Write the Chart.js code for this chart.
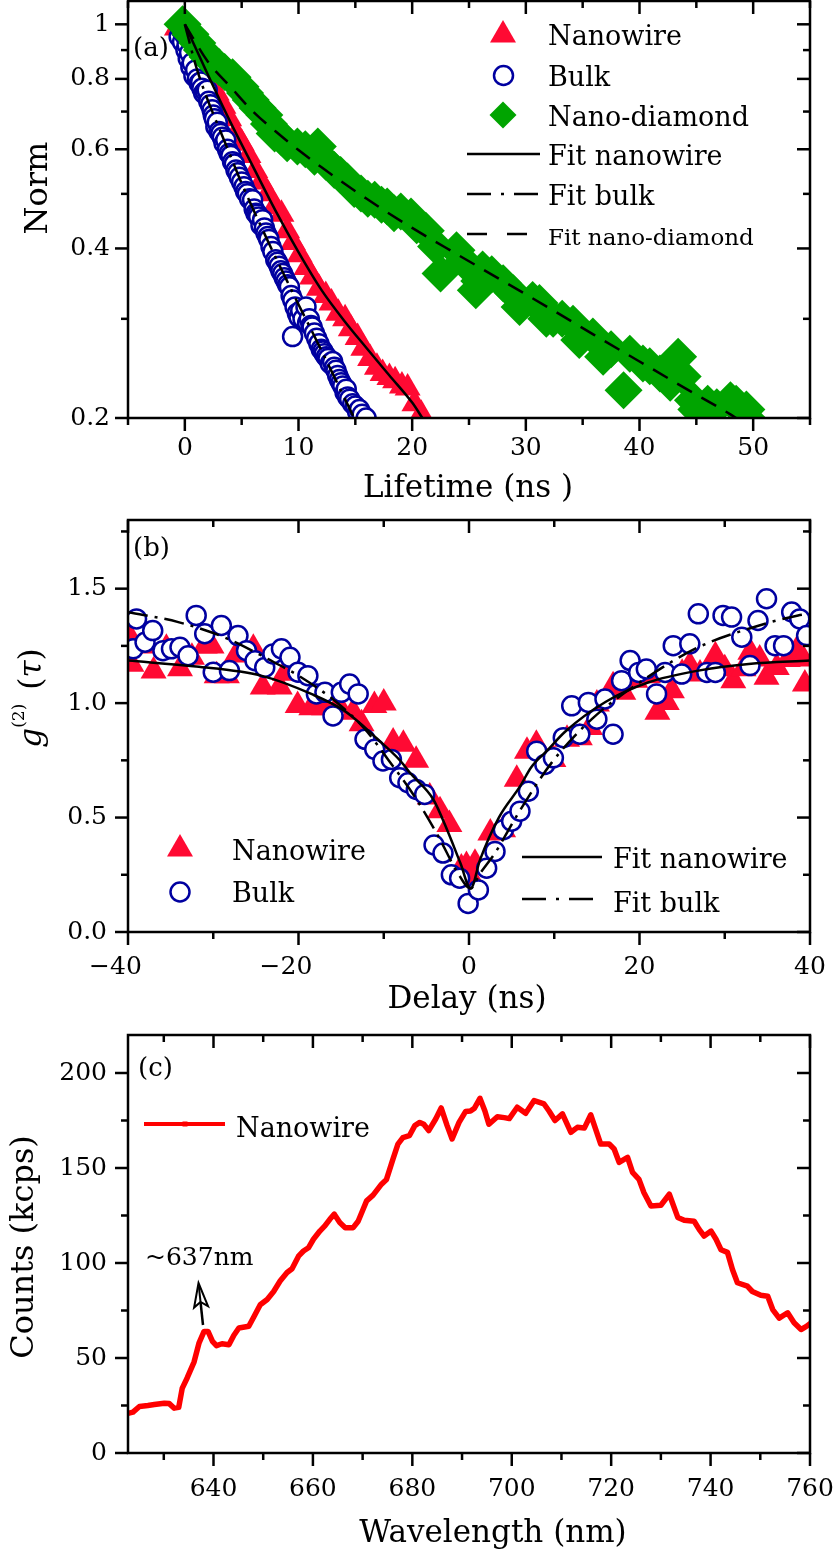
<!DOCTYPE html>
<html><head><meta charset="utf-8">
<script src="https://cdn.jsdelivr.net/npm/chart.js@4.4.1/dist/chart.umd.min.js"></script>
<style>
html,body{margin:0;padding:0;background:#fff;}
#wrap{position:relative;width:838px;height:1550px;overflow:hidden;background:#fff;}
canvas{position:absolute;left:0;top:0;}
</style></head><body>
<div id="wrap">
<canvas id="ca" width="838" height="1550" style="width:838px;height:1550px"></canvas>
<canvas id="cb" width="838" height="1550" style="width:838px;height:1550px"></canvas>
<canvas id="cc" width="838" height="1550" style="width:838px;height:1550px"></canvas>
</div>
<script>
// ================= DATA =================
// ---- Panel (a): lifetime decay, [time ns, normalised] ----
const lifeNanowire = [[-0.7,0.985],[0,1.0],[0.6,0.94],[1.2,0.885],[1.7,0.84],[2.3,0.795],[2.8,0.755],[3.4,0.715],[3.9,0.68],[4.5,0.64],[5.0,0.615],[5.6,0.585],[6.2,0.55],[6.7,0.525],[7.3,0.5],[7.9,0.475],[8.5,0.46],[9.0,0.43],[9.5,0.41],[10.1,0.39],[10.7,0.37],[11.2,0.356],[11.8,0.34],[12.4,0.33],[12.9,0.32],[13.5,0.307],[14.1,0.3],[14.6,0.288],[15.2,0.278],[15.7,0.266],[16.3,0.255],[16.9,0.246],[17.4,0.24],[18.0,0.236],[18.5,0.233],[19.1,0.228],[19.6,0.226],[20.2,0.212],[20.8,0.203]];
const lifeBulk = [[-0.5,0.95],[-0.35,0.98],[-0.2,0.93],[-0.05,0.96],[0.1,0.9],[0.2,0.92],[0.3,0.87],[0.42,0.89],[0.53,0.84],[0.65,0.855],[0.8,0.81],[0.95,0.83],[1.1,0.8],[1.26,0.786],[1.4,0.79],[1.5,0.77],[1.65,0.755],[1.8,0.76],[1.97,0.764],[2.1,0.73],[2.25,0.72],[2.4,0.705],[2.5,0.69],[2.6,0.68],[2.73,0.658],[2.85,0.67],[3.0,0.645],[3.15,0.64],[3.3,0.63],[3.45,0.615],[3.6,0.623],[3.75,0.6],[3.9,0.59],[4.05,0.585],[4.2,0.57],[4.35,0.565],[4.5,0.551],[4.65,0.545],[4.8,0.535],[5.0,0.525],[5.2,0.515],[5.35,0.505],[5.5,0.5],[5.7,0.49],[5.96,0.488],[6.1,0.47],[6.25,0.462],[6.4,0.46],[6.5,0.455],[6.7,0.44],[6.84,0.45],[7.0,0.435],[7.14,0.426],[7.3,0.42],[7.4,0.415],[7.58,0.403],[7.75,0.395],[8.0,0.382],[8.15,0.378],[8.3,0.372],[8.45,0.365],[8.6,0.361],[8.75,0.355],[8.9,0.35],[9.05,0.345],[9.2,0.342],[9.35,0.33],[9.5,0.324],[9.48,0.279],[9.7,0.315],[9.9,0.307],[10.05,0.302],[10.2,0.31],[10.4,0.3],[10.66,0.315],[10.8,0.295],[10.95,0.3],[11.1,0.292],[11.2,0.29],[11.4,0.283],[11.6,0.277],[11.8,0.271],[12.0,0.265],[12.15,0.263],[12.27,0.26],[12.45,0.257],[12.6,0.255],[12.8,0.25],[13.0,0.252],[13.15,0.246],[13.3,0.243],[13.45,0.238],[13.6,0.234],[13.75,0.231],[13.9,0.228],[14.1,0.222],[14.2,0.225],[14.33,0.218],[14.5,0.216],[14.77,0.212],[15.0,0.21],[15.2,0.205],[15.36,0.207],[15.6,0.203],[15.95,0.2]];
const lifeDiamond = [[-0.2,1.0],[0.5,0.96],[1.1,0.926],[1.5,0.9],[2.0,0.875],[2.6,0.85],[3.0,0.84],[3.5,0.823],[4.2,0.805],[4.9,0.775],[5.3,0.755],[5.8,0.734],[6.4,0.71],[7.0,0.69],[7.4,0.665],[7.9,0.64],[8.5,0.63],[9.0,0.615],[9.9,0.607],[10.6,0.6],[11.4,0.582],[11.7,0.607],[12.4,0.57],[13.15,0.551],[13.7,0.54],[14.3,0.526],[14.9,0.51],[15.5,0.501],[16.1,0.49],[16.7,0.488],[17.3,0.478],[17.8,0.475],[18.4,0.462],[19.0,0.465],[19.9,0.456],[20.4,0.44],[21.2,0.43],[22.1,0.403],[22.5,0.361],[23.9,0.397],[24.5,0.38],[25.6,0.337],[25.9,0.35],[26.2,0.367],[27.0,0.36],[28.0,0.347],[28.9,0.333],[29.45,0.315],[30.6,0.324],[31.2,0.32],[31.8,0.3],[32.4,0.3],[33.2,0.3],[34.15,0.294],[34.7,0.275],[35.9,0.279],[36.8,0.257],[37.5,0.265],[38.6,0.224],[39.15,0.26],[40.3,0.25],[40.9,0.247],[41.8,0.24],[42.7,0.231],[43.4,0.257],[43.8,0.237],[44.7,0.215],[45.0,0.207],[46.0,0.212],[46.8,0.209],[48.0,0.215],[48.5,0.212],[49.4,0.207],[49.7,0.198]];
const fitNanowireA = [[0,1.0],[2,0.816],[4,0.671],[6,0.559],[8,0.466],[10,0.394],[12,0.338],[14,0.298],[16,0.266],[18,0.238],[20,0.213],[20.9,0.2]];
const fitBulkA = [[0,1.0],[1,0.84],[2,0.735],[3,0.655],[4,0.585],[5,0.522],[6,0.47],[7,0.425],[8,0.385],[9,0.35],[10,0.318],[11,0.29],[12,0.264],[13,0.24],[14,0.218],[14.9,0.2]];
const fitDiamondA = [[0,1.0],[2,0.86],[4,0.775],[6,0.70],[8,0.645],[10,0.598],[12,0.558],[14,0.522],[16,0.49],[18,0.461],[20,0.435],[24,0.39],[28,0.35],[32,0.314],[36,0.281],[40,0.252],[44,0.226],[48,0.203],[48.5,0.2]];
const lifeXTicks = [0,10,20,30,40,50];
const lifeXMinor = [-5,5,15,25,35,45,55];
const lifeYTicks = [0.2,0.4,0.6,0.8,1];
const lifeYLabels = ['0.2','0.4','0.6','0.8','1'];
const lifeYMinor = [0.3,0.5,0.7,0.9];

// ---- Panel (b): g2(tau), [delay ns, g2] ----
const g2Nanowire = [[-39.8,1.29],[-39.6,1.17],[-38.3,1.25],[-37.0,1.14],[-35.5,1.24],[-33.9,1.15],[-32.5,1.2],[-31.0,1.25],[-30.2,1.25],[-29.6,1.12],[-28.4,1.12],[-27.3,1.21],[-25.3,1.24],[-24.2,1.07],[-22.2,1.07],[-21.6,1.13],[-20.1,0.99],[-18.5,0.98],[-17.0,0.98],[-15.3,0.99],[-13.6,0.96],[-12.6,0.91],[-11.1,0.99],[-10.0,1.0],[-8.9,0.83],[-7.7,0.82],[-6.2,0.75],[-4.6,0.59],[-3.4,0.53],[-2.3,0.47],[-0.9,0.28],[-0.3,0.29],[0.3,0.235],[0.7,0.3],[2.5,0.433],[4.0,0.447],[5.6,0.667],[6.8,0.79],[7.9,0.82],[9.9,0.754],[11.5,0.842],[13.0,0.849],[14.2,0.893],[15.0,0.996],[16.9,1.076],[18.1,1.047],[19.5,1.1],[21.0,1.12],[22.1,0.96],[23.2,1.003],[23.8,1.054],[25.0,1.13],[25.9,1.164],[27.1,1.127],[28.9,1.207],[30.0,1.15],[31.0,1.098],[32.2,1.15],[33.0,1.222],[34.1,1.193],[34.9,1.113],[36.1,1.156],[37.4,1.19],[38.4,1.229],[39.2,1.193],[39.4,1.083]];
const g2Bulk = [[-39.4,1.237],[-39.0,1.368],[-38.0,1.266],[-37.1,1.317],[-35.9,1.229],[-34.9,1.237],[-33.9,1.244],[-32.96,1.207],[-32.0,1.383],[-31.0,1.303],[-30.0,1.135],[-29.05,1.339],[-28.1,1.142],[-27.1,1.295],[-26.1,1.229],[-25.1,1.185],[-23.96,1.156],[-23.0,1.215],[-22.0,1.237],[-21.0,1.2],[-20.06,1.135],[-18.9,1.12],[-17.9,1.04],[-16.9,1.047],[-15.95,0.944],[-14.98,1.047],[-14.0,1.083],[-13.0,1.04],[-12.2,0.842],[-11.06,0.798],[-10.09,0.747],[-9.1,0.754],[-8.13,0.674],[-7.16,0.652],[-6.18,0.623],[-5.2,0.601],[-4.1,0.38],[-3.05,0.345],[-2.07,0.25],[-1.1,0.235],[-0.1,0.125],[1.1,0.184],[2.07,0.279],[3.05,0.352],[4.03,0.447],[5.0,0.484],[5.98,0.528],[6.96,0.615],[7.94,0.79],[8.9,0.732],[9.9,0.761],[11.06,0.849],[12.05,0.988],[13.0,0.864],[14.0,1.003],[15.0,0.93],[15.95,1.018],[16.9,0.864],[17.9,1.098],[18.9,1.186],[19.9,1.134],[20.8,1.149],[22.0,1.04],[23.0,1.134],[23.96,1.251],[24.95,1.127],[25.9,1.259],[26.9,1.39],[27.9,1.134],[28.9,1.134],[29.8,1.383],[30.8,1.376],[32.0,1.288],[32.96,1.164],[33.9,1.361],[34.9,1.456],[35.9,1.251],[36.9,1.251],[37.85,1.398],[38.8,1.368],[39.6,1.295]];
const fitNanowireB = [[-40,1.186],[-32,1.16],[-24.4,1.12],[-18.5,1.04],[-14.6,0.966],[-10.7,0.842],[-8.1,0.75],[-6.8,0.69],[-4.2,0.58],[-2.5,0.44],[-1,0.3],[0.2,0.19],[1.3,0.316],[3.5,0.5],[6,0.637],[7.3,0.72],[9.1,0.79],[11.3,0.876],[16,1.005],[21,1.09],[26.9,1.142],[32.8,1.171],[40,1.186]];
const fitBulkB = [[-40,1.397],[-34.1,1.354],[-28.3,1.281],[-23.6,1.193],[-19.7,1.113],[-15.75,1.01],[-12.2,0.886],[-9.5,0.754],[-6.4,0.593],[-3.6,0.418],[-1.3,0.257],[0.2,0.19],[1.2,0.25],[3.05,0.345],[5.8,0.52],[9.7,0.74],[14.4,0.93],[20.6,1.105],[26.9,1.244],[32.8,1.325],[38.6,1.383],[40,1.39]];
const delayXTicks = [-40,-20,0,20,40];
const delayXMinor = [-30,-10,10,30];
const g2YTicks = [0,0.5,1.0,1.5];
const g2YLabels = ['0.0','0.5','1.0','1.5'];
const g2YMinor = [0.25,0.75,1.25,1.75];

// ---- Panel (c): spectrum ----
const wavelength = [623,623.8,625.1,626.8,628.1,630.1,631.1,632.1,633,633.7,634.7,636.1,637.1,638.1,638.9,639.8,640.6,641.7,643.1,644.1,645.1,647.1,648.1,649.4,650.8,652.1,653.4,654.8,655.8,657.1,658.1,659.1,660.1,661.4,662.4,663.4,664.3,665.4,666.5,668.1,669.1,670.1,670.8,672.1,673.8,674.8,676.1,677.1,678.1,679.4,680.5,681.5,682.3,683.3,684.7,685.8,687,688,689.4,690.7,691.7,692.5,693.6,694.6,695.4,697.1,698.5,699.5,701.1,702.8,704.5,706.5,707.5,708.7,710.2,711.9,713.2,714.6,715.9,717.9,719.6,720.6,721.6,723.3,724.3,725.6,726.6,728,730,731.7,733.4,734.7,736.7,737.7,738.7,740.1,741.1,742.1,743.4,744.4,745.4,747.4,748.4,750.1,751.5,752.5,753.8,755.5,756.8,758.2,759.2,760.2];
const counts = [21,21.5,24.5,25,25.5,26.2,26,23.6,24,34,39.5,48,58,64,64,58.8,56.5,57.5,57,62,65.8,66.7,71.6,78,80.8,85,90.5,95,97,103.6,106.3,108,112.5,116.8,119.5,123,125.7,121.3,118.6,118.6,122,128.3,132.7,135.7,141.5,144,154.7,162.6,166,167,172.3,174,173,169.7,175.8,181.6,172.3,165.3,174,179.7,180,181.5,186.7,180,173,177,176.5,176,182,178.8,185.5,183.7,180,175,178.5,168.8,171.4,171,178,162.6,162.6,160,153,155.6,147.7,144,137,130,130.4,136.2,124,122.5,122,117.7,114.2,116.8,112.5,107,105.6,96.6,89.6,87.8,85,83,82.5,75.5,71,73.8,68.5,65,66.5,68.5];
const wlXTicks = [640,660,680,700,720,740,760];
const wlXMinor = [630,650,670,690,710,730,750];
const countsYTicks = [0,50,100,150,200];
const countsYMinor = [25,75,125,175];

// ================= STYLE / HELPERS =================
const RED = '#ff0a33', BLUE = '#0000a0', GREEN = '#00a400';
const SERIF = '"DejaVu Serif"';
Chart.defaults.color = '#000';
Chart.defaults.font.family = 'DejaVu Serif';

const pts = arr => arr.map(p => ({x: p[0], y: p[1]}));
const zip = (xs, ys) => xs.map((x, i) => ({x: x, y: ys[i]}));
const resetPad = s => { s.paddingTop = 0; s.paddingBottom = 0; s.paddingLeft = 0; s.paddingRight = 0; };
const fixW = w => s => { s.width = w; resetPad(s); };
const fixH = h => s => { s.height = h; resetPad(s); };
const setTicks = arr => s => { s.ticks = arr.map(v => ({value: v})); };

function fitDs(label, data, dash) {
  return {label, data: pts(data), showLine: true, borderColor: '#000', borderWidth: 2.5,
    borderDash: dash, pointRadius: 0, cubicInterpolationMode: 'monotone', clip: 0, fill: false};
}
function markDs(label, data, style, r, fill, stroke, bw) {
  return {label, data: pts(data), showLine: false, pointStyle: style, pointRadius: r,
    pointBackgroundColor: fill, pointBorderColor: stroke, pointBorderWidth: bw, clip: 0};
}

const FRAME = {
  ca: {xMaj: lifeXTicks, xMin: lifeXMinor, yMaj: lifeYTicks, yMin: lifeYMinor},
  cb: {xMaj: delayXTicks, xMin: delayXMinor, yMaj: g2YTicks, yMin: g2YMinor},
  cc: {xMaj: wlXTicks, xMin: wlXMinor, yMaj: countsYTicks, yMin: countsYMinor}
};
const framePlugin = {
  id: 'frameTicks',
  afterDraw(chart) {
    const f = FRAME[chart.canvas.id]; if (!f) return;
    const ctx = chart.ctx, a = chart.chartArea, xs = chart.scales.x, ys = chart.scales.y;
    ctx.save();
    ctx.strokeStyle = '#000'; ctx.lineWidth = 2.5; ctx.setLineDash([]);
    const seg = (x1, y1, x2, y2) => { ctx.beginPath(); ctx.moveTo(x1, y1); ctx.lineTo(x2, y2); ctx.stroke(); };
    const M = 13, m = 7;
    f.xMaj.map(v => [v, M]).concat(f.xMin.map(v => [v, m])).forEach(([v, L]) => {
      const px = xs.getPixelForValue(v);
      seg(px, a.bottom, px, a.bottom + L); seg(px, a.top, px, a.top + L);
    });
    f.yMaj.map(v => [v, M]).concat(f.yMin.map(v => [v, m])).forEach(([v, L]) => {
      const py = ys.getPixelForValue(v);
      seg(a.left - L, py, a.left, py); seg(a.right - L, py, a.right, py);
    });
    ctx.strokeRect(a.left, a.top, a.right - a.left, a.bottom - a.top);
    ctx.restore();
  }
};

function drawMarker(ctx, it) {
  const {x, y, r} = it;
  ctx.beginPath();
  if (it.style === 'triangle') {
    ctx.moveTo(x, y - r); ctx.lineTo(x + 0.866 * r, y + 0.5 * r); ctx.lineTo(x - 0.866 * r, y + 0.5 * r); ctx.closePath();
  } else if (it.style === 'circle') {
    ctx.arc(x, y, r, 0, Math.PI * 2);
  } else if (it.style === 'rectRot') {
    ctx.moveTo(x - r, y); ctx.lineTo(x, y - r); ctx.lineTo(x + r, y); ctx.lineTo(x, y + r); ctx.closePath();
  } else if (it.style === 'rect') {
    ctx.rect(x - r, y - r, 2 * r, 2 * r);
  }
  ctx.fillStyle = it.fill; ctx.fill();
  if (it.bw) { ctx.lineWidth = it.bw; ctx.strokeStyle = it.stroke; ctx.stroke(); }
}

const F = (s, st) => (st ? st + ' ' : '') + s + 'px ' + SERIF;
const ANNOT = {
  ca: [
    {type: 'text', text: '(a)', x: 133, y: 56, font: F(26)},
    {type: 'marker', style: 'triangle', x: 503, y: 35, r: 15, fill: RED},
    {type: 'marker', style: 'circle', x: 503.5, y: 75.5, r: 9.5, fill: '#fff', stroke: BLUE, bw: 2.5},
    {type: 'marker', style: 'rectRot', x: 503, y: 115, r: 13.5, fill: GREEN},
    {type: 'line', x1: 467, x2: 540, y: 154, dash: []},
    {type: 'line', x1: 467, x2: 540, y: 194, dash: [24, 10, 3, 10]},
    {type: 'line', x1: 467, x2: 527, y: 234, dash: [20, 20]},
    {type: 'text', text: 'Nanowire', x: 548, y: 45, font: F(27)},
    {type: 'text', text: 'Bulk', x: 548, y: 86, font: F(27)},
    {type: 'text', text: 'Nano-diamond', x: 548, y: 126, font: F(27)},
    {type: 'text', text: 'Fit nanowire', x: 548, y: 165, font: F(27)},
    {type: 'text', text: 'Fit bulk', x: 548, y: 205, font: F(27)},
    {type: 'text', text: 'Fit nano-diamond', x: 548, y: 245, font: F(23)},
    {type: 'text', text: 'Norm', x: 47, y: 188, font: F(32), rot: -Math.PI / 2, align: 'center'},
    {type: 'text', text: 'Lifetime (ns )', x: 468, y: 497, font: F(31), align: 'center'}
  ],
  cb: [
    {type: 'text', text: '(b)', x: 133, y: 556, font: F(26)},
    {type: 'marker', style: 'triangle', x: 180, y: 849, r: 15, fill: RED},
    {type: 'marker', style: 'circle', x: 180, y: 892, r: 9.5, fill: '#fff', stroke: BLUE, bw: 2.5},
    {type: 'text', text: 'Nanowire', x: 232, y: 860, font: F(27)},
    {type: 'text', text: 'Bulk', x: 232, y: 902, font: F(27)},
    {type: 'line', x1: 522, x2: 602, y: 857, dash: []},
    {type: 'line', x1: 522, x2: 599, y: 899, dash: [24, 10, 3, 10]},
    {type: 'text', text: 'Fit nanowire', x: 613, y: 868, font: F(27)},
    {type: 'text', text: 'Fit bulk', x: 613, y: 912, font: F(27)},
    {type: 'rich', x: 41, y: 698, parts: [
      {t: 'g', font: F(31, 'italic')},
      {t: '(2)', font: F(17), dy: -17},
      {t: '', gap: 14},
      {t: '(', font: F(31)}, {t: '\u03c4', font: F(31, 'italic')}, {t: ')', font: F(31)}
    ]},
    {type: 'text', text: 'Delay (ns)', x: 467, y: 1008, font: F(31), align: 'center'}
  ],
  cc: [
    {type: 'text', text: '(c)', x: 138, y: 1076, font: F(26)},
    {type: 'line', x1: 144, x2: 225, y: 1124, dash: [], color: '#ff0000', width: 4},
    {type: 'marker', style: 'rect', x: 185, y: 1124, r: 2.5, fill: '#ff0000'},
    {type: 'text', text: 'Nanowire', x: 236, y: 1137, font: F(27)},
    {type: 'text', text: '~637nm', x: 145, y: 1265, font: F(25)},
    {type: 'arrow', x1: 203, y1: 1325, x2: 198.5, y2: 1283, hw: 7, hl: 24},
    {type: 'text', text: 'Counts (kcps)', x: 33, y: 1247, font: F(32), rot: -Math.PI / 2, align: 'center'},
    {type: 'text', text: 'Wavelength (nm)', x: 493, y: 1542, font: F(31), align: 'center'}
  ]
};
const annotPlugin = {
  id: 'annot',
  afterDraw(chart) {
    const items = ANNOT[chart.canvas.id]; if (!items) return;
    const ctx = chart.ctx;
    items.forEach(it => {
      ctx.save();
      ctx.setLineDash([]);
      if (it.type === 'text') {
        ctx.font = it.font; ctx.fillStyle = '#000';
        ctx.textAlign = it.align || 'left'; ctx.textBaseline = 'alphabetic';
        ctx.translate(it.x, it.y); if (it.rot) ctx.rotate(it.rot);
        ctx.fillText(it.text, 0, 0);
      } else if (it.type === 'rich') {
        ctx.translate(it.x, it.y); ctx.rotate(-Math.PI / 2);
        ctx.fillStyle = '#000'; ctx.textBaseline = 'alphabetic'; ctx.textAlign = 'left';
        let total = 0;
        it.parts.forEach(p => { if (p.font) { ctx.font = p.font; p.w = ctx.measureText(p.t).width; } else p.w = p.gap; total += p.w; });
        let cx = -total / 2;
        it.parts.forEach(p => { if (p.font) { ctx.font = p.font; ctx.fillText(p.t, cx, p.dy || 0); } cx += p.w; });
      } else if (it.type === 'line') {
        ctx.strokeStyle = it.color || '#000'; ctx.lineWidth = it.width || 2.5;
        ctx.setLineDash(it.dash || []);
        ctx.beginPath(); ctx.moveTo(it.x1, it.y); ctx.lineTo(it.x2, it.y); ctx.stroke();
      } else if (it.type === 'marker') {
        drawMarker(ctx, it);
      } else if (it.type === 'arrow') {
        const dx = it.x2 - it.x1, dy = it.y2 - it.y1, L = Math.hypot(dx, dy);
        const ux = dx / L, uy = dy / L, nx = -uy, ny = ux;
        const bx = it.x2 - ux * it.hl, by = it.y2 - uy * it.hl;
        ctx.strokeStyle = '#000'; ctx.lineWidth = 2.5;
        ctx.beginPath(); ctx.moveTo(it.x1, it.y1); ctx.lineTo(bx + ux * 6, by + uy * 6); ctx.stroke();
        ctx.lineWidth = 2;
        ctx.beginPath(); ctx.moveTo(it.x2, it.y2);
        ctx.lineTo(bx + nx * it.hw, by + ny * it.hw);
        ctx.lineTo(bx + ux * 5, by + uy * 5);
        ctx.lineTo(bx - nx * it.hw, by - ny * it.hw);
        ctx.closePath(); ctx.fillStyle = '#fff'; ctx.fill(); ctx.stroke();
        ctx.beginPath(); ctx.moveTo(bx + ux * 5, by + uy * 5); ctx.lineTo(it.x2 - ux * 4, it.y2 - uy * 4); ctx.stroke();
      }
      ctx.restore();
    });
  }
};
Chart.register(framePlugin, annotPlugin);

function baseOptions(padding, xCfg, yCfg) {
  return {
    responsive: false, animation: false, devicePixelRatio: 1, events: [],
    layout: {padding: padding, autoPadding: false},
    plugins: {legend: {display: false}, tooltip: {enabled: false}, title: {display: false}},
    elements: {line: {borderCapStyle: 'butt', borderJoinStyle: 'round'}},
    scales: {x: xCfg, y: yCfg}
  };
}
function axisCfg(extra) {
  return Object.assign({grid: {display: false, drawTicks: false}, border: {display: false}}, extra);
}
const tickFont = {family: 'DejaVu Serif', size: 25};

// ---- Chart (a) ----
new Chart(document.getElementById('ca'), {
  type: 'line',
  data: {datasets: [
    fitDs('Fit nanowire', fitNanowireA, []),
    fitDs('Fit bulk', fitBulkA, [20, 7, 3, 7]),
    fitDs('Fit nano-diamond', fitDiamondA, [17, 11]),
    markDs('Nano-diamond', lifeDiamond, 'rectRot', 19, GREEN, GREEN, 0),
    markDs('Bulk', lifeBulk, 'circle', 9.5, '#fff', BLUE, 2.5),
    markDs('Nanowire', lifeNanowire, 'triangle', 15, RED, RED, 0)
  ]},
  options: baseOptions({top: 1, left: 0, right: 28, bottom: 1050},
    axisCfg({type: 'linear', min: -5, max: 55,
      ticks: {font: tickFont, padding: 15, autoSkip: false, maxRotation: 0, callback: v => String(v)},
      afterBuildTicks: setTicks(lifeXTicks), afterFit: fixH(82)}),
    axisCfg({type: 'logarithmic', min: 0.2, max: 1.1,
      ticks: {font: tickFont, padding: 18, autoSkip: false, callback: v => { const i = lifeYTicks.findIndex(t => Math.abs(t - v) < 1e-6); return i >= 0 ? lifeYLabels[i] : ''; }},
      afterBuildTicks: setTicks(lifeYTicks), afterFit: fixW(128)}))
});

// ---- Chart (b) ----
new Chart(document.getElementById('cb'), {
  type: 'line',
  data: {datasets: [
    fitDs('Fit nanowire', fitNanowireB, []),
    fitDs('Fit bulk', fitBulkB, [20, 7, 3, 7]),
    markDs('Bulk', g2Bulk, 'circle', 9.5, '#fff', BLUE, 2.5),
    markDs('Nanowire', g2Nanowire, 'triangle', 15, RED, RED, 0)
  ]},
  options: baseOptions({top: 520, left: 0, right: 28, bottom: 520},
    axisCfg({type: 'linear', min: -40, max: 40,
      ticks: {font: tickFont, padding: 20, autoSkip: false, maxRotation: 0, callback: v => v < 0 ? '\u2212' + Math.abs(v) + '\u2003' : String(v)},
      afterBuildTicks: setTicks(delayXTicks), afterFit: fixH(98)}),
    axisCfg({type: 'linear', min: 0, max: 1.8,
      ticks: {font: tickFont, padding: 21, autoSkip: false, callback: v => { const i = g2YTicks.findIndex(t => Math.abs(t - v) < 1e-6); return i >= 0 ? g2YLabels[i] : ''; }},
      afterBuildTicks: setTicks(g2YTicks), afterFit: fixW(128)}))
});

// ---- Chart (c) ----
new Chart(document.getElementById('cc'), {
  type: 'line',
  data: {datasets: [
    {label: 'Nanowire', data: zip(wavelength, counts), showLine: true, borderColor: '#ff0000', borderWidth: 5.5,
     pointRadius: 0, tension: 0, clip: 0, fill: false, borderJoinStyle: 'round', borderCapStyle: 'round'}
  ]},
  options: baseOptions({top: 1035, left: 0, right: 28, bottom: 0},
    axisCfg({type: 'linear', min: 622.8, max: 760,
      ticks: {font: tickFont, padding: 21, autoSkip: false, maxRotation: 0, callback: v => String(v)},
      afterBuildTicks: setTicks(wlXTicks), afterFit: fixH(97)}),
    axisCfg({type: 'linear', min: 0, max: 220,
      ticks: {font: tickFont, padding: 21, autoSkip: false, callback: v => String(v)},
      afterBuildTicks: setTicks(countsYTicks), afterFit: fixW(128)}))
});
</script>
</body></html>
